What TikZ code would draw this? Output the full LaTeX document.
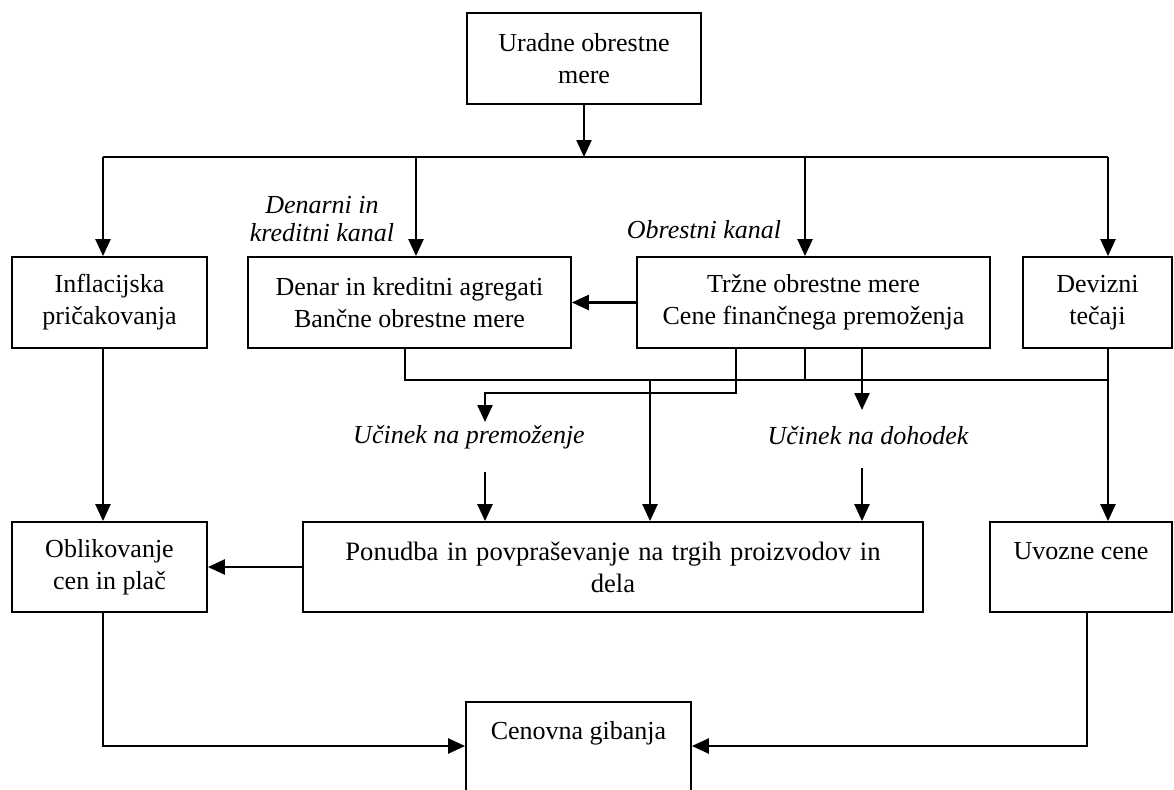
\documentclass[tikz,border=0pt]{standalone}
\usepackage{fontspec}
\setmainfont{Liberation Serif}
\usetikzlibrary{arrows.meta}
\begin{document}
\begin{tikzpicture}[x=1pt,y=-1pt,
  box/.style={draw, line width=1.8pt, inner sep=0pt, align=center, font=\fontsize{26}{32}\selectfont},
  lbl/.style={font=\fontsize{26}{28}\selectfont\itshape, align=center, inner sep=0pt},
  conn/.style={line width=1.8pt},
  arr/.style={line width=2.4pt, -{Triangle[length=17pt,width=15pt]}}]
\useasboundingbox (0,0) rectangle (1174,789);
% boxes
\node[box, minimum width=234pt, minimum height=91pt] (top) at (584,58.5) {Uradne obrestne\\mere};
\node[box, minimum width=195pt, minimum height=91pt] (infl) at (109.5,302.5) {Inflacijska\\pričakovanja};
\node[box, minimum width=323pt, minimum height=91pt] (denar) at (409.5,302.5) {Denar in kreditni agregati\\Bančne obrestne mere};
\node[box, minimum width=353pt, minimum height=91pt] (trzne) at (813.5,302.5) {Tržne obrestne mere\\Cene finančnega premoženja};
\node[box, minimum width=149pt, minimum height=91pt] (deviz) at (1097.5,302.5) {Devizni\\tečaji};
\node[box, minimum width=195pt, minimum height=90pt] (oblik) at (109.5,567) {Oblikovanje\\cen in plač};
\node[box, minimum width=620pt, minimum height=90pt, font={\fontsize{26.6}{32}\selectfont\spaceskip=8.5pt\relax}] (ponud) at (613,567) {Ponudba in povpraševanje na trgih proizvodov in\\dela};
\node[box, minimum width=182pt, minimum height=90pt] (uvoz) at (1081,567) {Uvozne cene\\\mbox{}};
\node[box, minimum width=225pt, minimum height=120pt] (cen) at (578.5,762) {Cenovna gibanja\\\mbox{}\\\mbox{}};
% labels
\node[lbl] (lden) at (322,219) {Denarni in\\kreditni kanal};
\node[lbl] (lobr) at (704,230) {Obrestni kanal};
\node[lbl] (lprem) at (469,437) {Učinek na premoženje};
\node[lbl] (ldoh) at (868,436) {Učinek na dohodek};
% helper coordinates
\coordinate (b1) at (103,157);
\coordinate (b2) at (416,157);
\coordinate (b3) at (805,157);
\coordinate (b4) at (1108,157);
\coordinate (m1) at (405,380);
\coordinate (m2) at (1108,380);
\coordinate (j) at (650,380);
\coordinate (w1) at (736,393);
\coordinate (w2) at (485,393);
\coordinate (w3) at (485,422);
\coordinate (w4) at (485,472);
\coordinate (d1) at (862,410);
\coordinate (d2) at (862,468);
\coordinate (c1) at (103,746);
\coordinate (c2) at (1087,746);
% connectors
\draw[conn] (b1) -- (b4);
\draw[arr] (top.south) -- (top.south |- b1);
\draw[arr] (b1) -- (b1 |- infl.north);
\draw[arr] (b2) -- (b2 |- denar.north);
\draw[arr] (b3) -- (b3 |- trzne.north);
\draw[arr] (b4) -- (b4 |- deviz.north);
\draw[arr] (trzne.west) -- (denar.east);
\draw[arr] (b1 |- infl.south) -- (b1 |- oblik.north);
\draw[arr] (ponud.west) -- (oblik.east);
\draw[conn] (m1 |- denar.south) -- (m1) -- (m2);
\draw[conn] (b3 |- trzne.south) -- (b3 |- m1);
\draw[arr] (j) -- (j |- ponud.north);
\draw[arr] (w1 |- trzne.south) -- (w1) -- (w2) -- (w3);
\draw[arr] (w4) -- (w4 |- ponud.north);
\draw[arr] (d1 |- trzne.south) -- (d1);
\draw[arr] (d2) -- (d2 |- ponud.north);
\draw[arr] (b4 |- deviz.south) -- (b4 |- uvoz.north);
\draw[arr] (b1 |- oblik.south) -- (c1) -- (c1 -| cen.west);
\draw[arr] (c2 |- uvoz.south) -- (c2) -- (c2 -| cen.east);
\end{tikzpicture}
\end{document}
